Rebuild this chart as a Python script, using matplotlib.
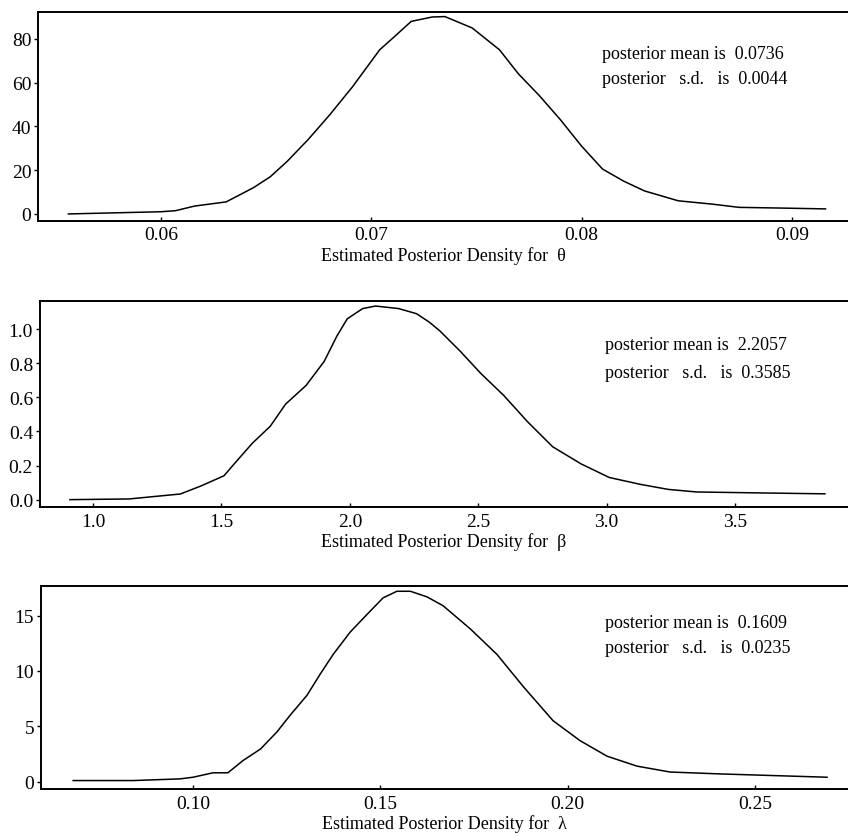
import numpy as np
import matplotlib
matplotlib.use('Agg')
import matplotlib.pyplot as plt

plt.rcParams['font.family'] = ['Liberation Serif', 'DejaVu Serif']

# theta
theta_x = [0.0556, 0.0600, 0.0607, 0.0616, 0.0631, 0.0644, 0.0652, 0.0660, 0.0670,
           0.0680, 0.0691, 0.0704, 0.0711, 0.0719, 0.0729, 0.0735, 0.0748, 0.0761,
           0.0770, 0.0780, 0.0790, 0.0800, 0.0810, 0.0820, 0.0830, 0.0846, 0.0862,
           0.0875, 0.0894, 0.0916]
theta_y = [0.0, 1.0, 1.5, 3.6, 5.5, 12, 17, 24, 34, 45, 58, 75, 81, 88, 90, 90.2,
           85, 75, 64, 54, 43, 31, 20.5, 15, 10.5, 6, 4.5, 3, 2.7, 2.3]

# beta
beta_x = [0.91, 1.14, 1.25, 1.34, 1.42, 1.51, 1.55, 1.62, 1.69, 1.75, 1.83, 1.90,
          1.95, 1.99, 2.05, 2.10, 2.19, 2.26, 2.31, 2.35, 2.43, 2.51, 2.60, 2.69,
          2.79, 2.90, 3.01, 3.13, 3.24, 3.35, 3.57, 3.85]
beta_y = [0.0, 0.004, 0.02, 0.033, 0.08, 0.14, 0.21, 0.33, 0.43, 0.56, 0.67, 0.81,
          0.96, 1.06, 1.12, 1.135, 1.12, 1.09, 1.04, 0.99, 0.87, 0.74, 0.61, 0.46,
          0.31, 0.21, 0.13, 0.09, 0.06, 0.045, 0.04, 0.034]

# lambda
lam_x = [0.068, 0.084, 0.0965, 0.100, 0.1053, 0.1093, 0.1133, 0.118, 0.1224, 0.1259,
         0.1304, 0.1339, 0.1374, 0.1419, 0.1464, 0.1507, 0.1544, 0.158, 0.1624,
         0.1667, 0.174, 0.1811, 0.1881, 0.1961, 0.2033, 0.2105, 0.2185, 0.2273,
         0.2406, 0.2692]
lam_y = [0.1, 0.1, 0.25, 0.4, 0.8, 0.8, 1.9, 2.95, 4.5, 6.0, 7.8, 9.7, 11.5, 13.5,
         15.1, 16.6, 17.2, 17.2, 16.7, 15.9, 13.8, 11.5, 8.6, 5.5, 3.7, 2.3, 1.4,
         0.87, 0.7, 0.4]

panels = [
    dict(x=theta_x, y=theta_y, rect=[0.0452, 0.7351, 0.9548, 0.2494],
         xlim=(0.05417, 0.09267), ylim=(-3.1, 92.3),
         xticks=[0.06, 0.07, 0.08, 0.09], xlabels=['0.06', '0.07', '0.08', '0.09'],
         yticks=[0, 20, 40, 60, 80], ylabels=['0', '20', '40', '60', '80'],
         name='\u03b8', mean='0.0736', sd='0.0044', tx=0.696, ty=(0.799, 0.679)),
    dict(x=beta_x, y=beta_y, rect=[0.0472, 0.3931, 0.9528, 0.2464],
         xlim=(0.7936, 3.940), ylim=(-0.043, 1.166),
         xticks=[1.0, 1.5, 2.0, 2.5, 3.0, 3.5],
         xlabels=['1.0', '1.5', '2.0', '2.5', '3.0', '3.5'],
         yticks=[0.0, 0.2, 0.4, 0.6, 0.8, 1.0],
         ylabels=['0.0', '0.2', '0.4', '0.6', '0.8', '1.0'],
         name='\u03b2', mean='2.2057', sd='0.3585', tx=0.699, ty=(0.79, 0.654)),
    dict(x=lam_x, y=lam_y, rect=[0.0483, 0.0562, 0.9517, 0.2428],
         xlim=(0.0594, 0.2748), ylim=(-0.66, 17.7),
         xticks=[0.10, 0.15, 0.20, 0.25], xlabels=['0.10', '0.15', '0.20', '0.25'],
         yticks=[0, 5, 10, 15], ylabels=['0', '5', '10', '15'],
         name='\u03bb', mean='0.1609', sd='0.0235', tx=0.699, ty=(0.821, 0.698)),
]

fig = plt.figure(figsize=(8.48, 8.37), dpi=100)

for p in panels:
    ax = fig.add_axes(p['rect'])
    ax.plot(p['x'], p['y'], color='black', lw=1.1)
    ax.set_xlim(*p['xlim'])
    ax.set_ylim(*p['ylim'])
    ax.set_xticks(p['xticks'])
    ax.set_xticklabels(p['xlabels'])
    ax.set_yticks(p['yticks'])
    ax.set_yticklabels(p['ylabels'])
    ax.spines['right'].set_visible(False)
    for s in ['left', 'bottom', 'top']:
        ax.spines[s].set_linewidth(1.4)
    ax.tick_params(axis='y', direction='out', length=3, width=1, labelsize=14, pad=2)
    ax.tick_params(axis='x', direction='in', length=3, width=1, labelsize=14, pad=4)
    ax.set_xlabel('Estimated Posterior Density for  ' + p['name'], fontsize=13, labelpad=2)
    ax.text(p['tx'], p['ty'][0], 'posterior mean is  ' + p['mean'],
            transform=ax.transAxes, fontsize=13, va='center', ha='left')
    ax.text(p['tx'], p['ty'][1], 'posterior   s.d.   is  ' + p['sd'],
            transform=ax.transAxes, fontsize=13, va='center', ha='left')

fig.savefig('out.png', dpi=100)
